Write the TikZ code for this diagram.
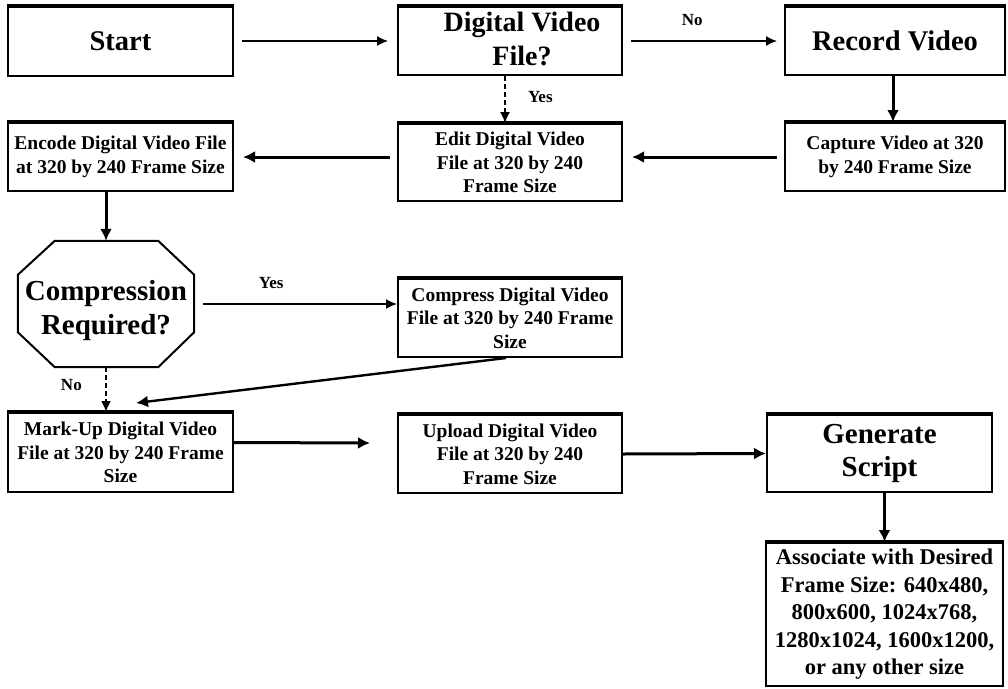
\documentclass[tikz,border=0pt]{standalone}
\usepackage{fontspec}
\setmainfont{Liberation Serif}
\usetikzlibrary{arrows.meta,calc}
\begin{document}
\begin{tikzpicture}[x=1pt,y=-1pt,
  box/.style={draw,line width=2pt,inner sep=1pt,align=center,font=\bfseries\fontsize{19.5}{23.5}\selectfont},
  bigbox/.style={box,font=\bfseries\fontsize{28.5}{34}\selectfont},
  thinarrow/.style={line width=1.5pt,-{Latex[length=11pt,width=10pt]}},
  thickarrow/.style={line width=3pt,-{Latex[length=12pt,width=12pt]}},
  dasharrow/.style={line width=1.5pt,dash pattern=on 5pt off 3pt,-{Latex[length=11pt,width=10pt]}},
  lbl/.style={font=\bfseries\fontsize{17}{19}\selectfont}]
\useasboundingbox (0,0) rectangle (1008,688);
% row 1
\node[bigbox,minimum width=225pt,minimum height=69pt] (start) at (120.5,41) {Start};
\node[draw,line width=2pt,minimum width=224pt,minimum height=68pt] (digital) at (510,41) {};
\node[align=center,font=\bfseries\fontsize{28}{34}\selectfont] (digtext) at ($(digital.center)+(12,-2)$) {Digital Video\\File?};
\node[bigbox,minimum width=220pt,minimum height=68pt] (record) at (895,41) {Record Video};
% row 2
\node[box,minimum width=225pt,minimum height=68pt] (encode) at (120.5,157) {Encode Digital Video File\\at 320 by 240 Frame Size};
\node[box,minimum width=224pt,minimum height=77pt] (edit) at (510,162.5) {Edit Digital Video\\File at 320 by 240\\Frame Size};
\node[box,minimum width=220pt,minimum height=68pt] (capture) at (895,157) {Capture Video at 320\\by 240 Frame Size};
% octagon
\node[minimum width=176pt,minimum height=126pt,inner sep=0pt] (comp) at (106,304) {};
\node[align=center,font=\bfseries\fontsize{29}{34}\selectfont] (comptext) at ($(comp.center)+(0,7)$) {Compression\\Required?};
\draw[line width=2pt] ($(comp.north west)+(37,0)$) -- ($(comp.north east)+(-36,0)$)
  -- ($(comp.north east)+(0,34)$) -- ($(comp.south east)+(0,-35)$)
  -- ($(comp.south east)+(-36,0)$) -- ($(comp.south west)+(37,0)$)
  -- ($(comp.south west)+(0,-35)$) -- ($(comp.north west)+(0,34)$) -- cycle;
\node[box,minimum width=224pt,minimum height=78pt] (compress) at (510,318) {Compress Digital Video\\File at 320 by 240 Frame\\Size};
% row 4
\node[box,minimum width=225pt,minimum height=79pt] (markup) at (120.5,452.5) {Mark-Up Digital Video\\File at 320 by 240 Frame\\Size};
\node[box,minimum width=224pt,minimum height=78pt] (upload) at (510,454) {Upload Digital Video\\File at 320 by 240\\Frame Size};
\node[bigbox,minimum width=225pt,minimum height=77pt,font=\bfseries\fontsize{29}{33}\selectfont] (generate) at (879.5,453.5) {Generate\\Script};
\node[box,minimum width=237pt,minimum height=143pt,font=\bfseries\fontsize{22.5}{27.5}\selectfont] (assoc) at (884.5,614.5) {Associate with Desired\\Frame Size: 640x480,\\800x600, 1024x768,\\1280x1024, 1600x1200,\\or any other size};
% thicker top edges
\foreach \n in {start,digital,record,encode,edit,capture,compress,markup,upload,generate,assoc}
  \draw[line width=3.5pt] (\n.north west) -- (\n.north east);
% connectors
\draw[thinarrow,shorten <=8pt,shorten >=9pt] (start.east) -- (digital.west);
\draw[thinarrow,shorten <=8pt,shorten >=7pt] (digital.east) -- node[lbl,pos=0.43,yshift=21pt]{No} (record.west);
\draw[dasharrow] ($(digital.south)+(-5,0)$) -- node[lbl,right=19pt,pos=0.45]{Yes} ($(edit.north)+(-5,0)$);
\draw[thickarrow] ($(record.south)+(-2,0)$) -- ($(capture.north)+(-2,0)$);
\draw[thickarrow,shorten <=7pt,shorten >=9pt] (capture.west) -- (capture.west -| edit.east);
\draw[thickarrow,shorten <=7pt,shorten >=9pt] (edit.west |- encode.east) -- (encode.east);
\draw[thickarrow] (encode.south -| comp.north) -- (comp.north);
\draw[thinarrow,shorten <=9pt] (comp.east) -- node[lbl,pos=0.38,yshift=21pt]{Yes} (comp.east -| compress.west);
\coordinate (mtarget) at ($(markup.north west)+(129,-9)$);
\draw[thickarrow,line width=2.4pt] ($(compress.south)+(-4,0)$) -- (mtarget);
\draw[dasharrow,line width=1.8pt] (comp.south) -- node[lbl,left=20pt,pos=0.4]{No} (comp.south |- markup.north);
\coordinate (uptarget) at ($(upload.west)+(-27,-11)$);
\draw[thickarrow] ($(markup.east)+(0,-10)$) -- (uptarget);
\draw[thickarrow] (upload.east) -- (generate.west);
\draw[thickarrow,line width=2.4pt] (generate.south -| assoc.north) -- (assoc.north);
\end{tikzpicture}
\end{document}
